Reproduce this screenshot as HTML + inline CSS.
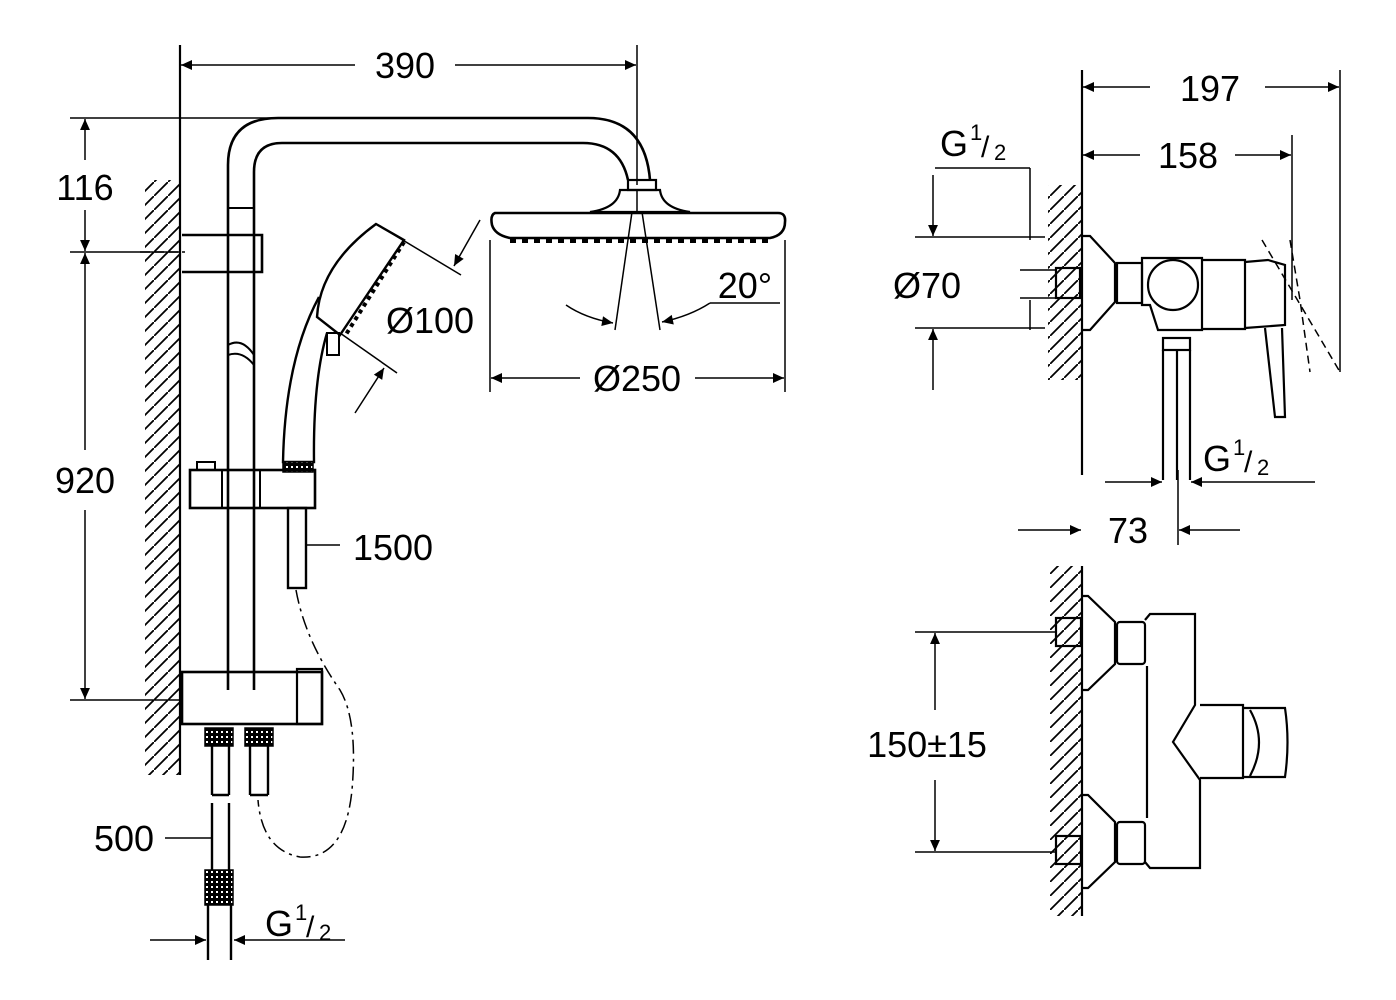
<!DOCTYPE html>
<html><head><meta charset="utf-8"><style>html,body{margin:0;padding:0;background:#fff}svg{display:block}</style></head><body>
<svg width="1396" height="1000" viewBox="0 0 1396 1000" xmlns="http://www.w3.org/2000/svg" font-family="Liberation Sans, sans-serif">
<defs>
<pattern id="h" width="14" height="14" patternUnits="userSpaceOnUse"><path d="M-2 16 L16 -2" stroke="#000" stroke-width="1.8"/></pattern>
<marker id="a" viewBox="0 0 10 10" refX="10" refY="5" markerWidth="30" markerHeight="11" markerUnits="userSpaceOnUse" orient="auto"><path d="M0 0.5 L10 5 L0 9.5z" fill="#000"/></marker>
<pattern id="k" width="5" height="5" patternUnits="userSpaceOnUse"><rect width="5" height="5" fill="#000"/><rect x="1" y="1" width="2" height="2" fill="#fff"/></pattern>
</defs>
<g fill="none" stroke="#000" stroke-width="1.5">
<!-- left wall -->
<rect x="145" y="180" width="35" height="595" fill="url(#h)" stroke="none"/>
<line x1="180" y1="45" x2="180" y2="775" stroke-width="2.2"/>
<!-- 390 -->
<line x1="637" y1="45" x2="637" y2="185"/>
<line x1="355" y1="65" x2="181" y2="65" marker-end="url(#a)"/>
<line x1="455" y1="65" x2="636" y2="65" marker-end="url(#a)"/>
<!-- 116 / 920 -->
<line x1="70" y1="118" x2="290" y2="118"/>
<line x1="70" y1="252" x2="180" y2="252"/>
<line x1="140" y1="252" x2="185" y2="252" stroke-dasharray="10 4"/>
<line x1="70" y1="700" x2="180" y2="700"/>
<line x1="85" y1="160" x2="85" y2="119" marker-end="url(#a)"/>
<line x1="85" y1="210" x2="85" y2="251" marker-end="url(#a)"/>
<line x1="85" y1="450" x2="85" y2="253" marker-end="url(#a)"/>
<line x1="85" y1="510" x2="85" y2="699" marker-end="url(#a)"/>
<!-- pipe -->
<path d="M228 690 V165 Q228 118 278 118 H588 Q645 118 650 180" stroke-width="2.6"/>
<path d="M254 690 V172 Q254 143 282 143 H583 Q620 143 628 180" stroke-width="2.6"/>
<line x1="228" y1="208" x2="254" y2="208" stroke-width="2"/>
<path d="M228 345 q14 -8 26 10 M228 355 q14 -5 26 10" stroke-width="2"/>
<!-- upper clamp -->
<path d="M182 235 H262 V272 H182" stroke-width="2.6"/>
<!-- head shower -->
<rect x="628" y="180" width="28" height="10" stroke-width="2.2"/>
<path d="M620 190 H660 Q662 208 690 212 H590 Q618 208 620 190z" stroke-width="2.2"/>
<path d="M495 213 Q490 215 492 225 Q495 235 510 238 H770 Q785 235 785 222 Q786 213 778 213z" stroke-width="2.6"/>
<path d="M510 241 H770" stroke-width="4" stroke-dasharray="6 6"/>
<line x1="637" y1="190" x2="637" y2="212"/>
<line x1="632" y1="212" x2="615" y2="330"/>
<line x1="642" y1="212" x2="660" y2="330"/>
<path d="M566 305 Q585 318 613 323" marker-end="url(#a)"/>
<path d="M710 303 Q690 316 662 322" marker-end="url(#a)"/>
<line x1="710" y1="303" x2="780" y2="303"/>
<line x1="490" y1="240" x2="490" y2="392"/>
<line x1="785" y1="240" x2="785" y2="392"/>
<line x1="580" y1="378" x2="491" y2="378" marker-end="url(#a)"/>
<line x1="695" y1="378" x2="784" y2="378" marker-end="url(#a)"/>
<!-- hand shower -->
<path d="M376 224 L404 240 L340 335 L317 317 Q320 265 376 224z" stroke-width="2.4"/>
<path d="M404 242 L345 336" stroke-width="4" stroke-dasharray="4 4"/>
<path d="M319 297 Q285 360 283 462 H314 Q313 380 327 333" stroke-width="2.4"/>
<rect x="327" y="333" width="12" height="22" stroke-width="2"/>
<line x1="376" y1="224" x2="461" y2="275"/>
<line x1="340" y1="333" x2="397" y2="373"/>
<line x1="480" y1="220" x2="454" y2="266" marker-end="url(#a)"/>
<line x1="355" y1="413" x2="384" y2="368" marker-end="url(#a)"/>
<rect x="283" y="462" width="30" height="10" fill="url(#k)"/>
<!-- slider -->
<rect x="190" y="470" width="125" height="38" stroke-width="2.6"/>
<line x1="222" y1="470" x2="222" y2="508" stroke-width="2"/><line x1="260" y1="470" x2="260" y2="508" stroke-width="2"/>
<rect x="197" y="462" width="18" height="8" stroke-width="2"/>
<rect x="288" y="508" width="18" height="80" stroke-width="2.4"/>
<line x1="306" y1="545" x2="340" y2="545"/>
<path d="M296 590 Q305 640 340 690 Q358 720 352 790 Q345 860 300 857 Q262 850 258 800" stroke-dasharray="14 5 3 5"/>
<!-- bottom bracket -->
<rect x="182" y="672" width="140" height="52" stroke-width="2.6"/>
<rect x="297" y="669" width="25" height="55" stroke-width="2.2"/>
<rect x="205" y="728" width="28" height="18" fill="url(#k)"/>
<rect x="245" y="728" width="28" height="18" fill="url(#k)"/>
<path d="M212 746 V795 M229 746 V795 M250 746 V795 M268 746 V795 M250 795 H268 M212 795 H229" stroke-width="2.4"/>
<path d="M212 803 V870 M229 803 V870" stroke-width="2.4"/>
<rect x="205" y="870" width="28" height="35" fill="url(#k)"/>
<path d="M208 905 V960 M231 905 V960" stroke-width="2.4"/>
<line x1="165" y1="838" x2="211" y2="838"/>
<line x1="150" y1="940" x2="206" y2="940" marker-end="url(#a)"/>
<line x1="345" y1="940" x2="234" y2="940" marker-end="url(#a)"/>

<!-- RIGHT TOP -->
<rect x="1048" y="185" width="34" height="195" fill="url(#h)" stroke="none"/>
<line x1="1082" y1="70" x2="1082" y2="475" stroke-width="2.2"/>
<line x1="1340" y1="70" x2="1340" y2="372"/>
<line x1="1292" y1="135" x2="1292" y2="300"/>
<line x1="1150" y1="87" x2="1083" y2="87" marker-end="url(#a)"/>
<line x1="1265" y1="87" x2="1339" y2="87" marker-end="url(#a)"/>
<line x1="1140" y1="155" x2="1083" y2="155" marker-end="url(#a)"/>
<line x1="1235" y1="155" x2="1291" y2="155" marker-end="url(#a)"/>
<line x1="935" y1="168" x2="1030" y2="168"/>
<line x1="1030" y1="168" x2="1030" y2="240"/>
<line x1="915" y1="237" x2="1045" y2="237"/>
<line x1="915" y1="328" x2="1045" y2="328"/>
<line x1="1020" y1="270" x2="1055" y2="270"/><line x1="1020" y1="298" x2="1055" y2="298"/>
<line x1="1030" y1="300" x2="1030" y2="330"/>
<line x1="933" y1="175" x2="933" y2="236" marker-end="url(#a)"/>
<line x1="933" y1="390" x2="933" y2="329" marker-end="url(#a)"/>
<rect x="1056" y="268" width="24" height="30" stroke-width="2.2"/>
<path d="M1082 236 H1090 L1115 263 V302 L1090 330 H1082" stroke-width="2.2"/>
<rect x="1117" y="263" width="25" height="40" stroke-width="2.2"/>
<path d="M1142 258 H1202 V330 H1158 L1150 305 H1142z" stroke-width="2.2"/>
<circle cx="1173" cy="285" r="25" stroke-width="2.2"/>
<path d="M1202 260 H1245 V329 H1202" stroke-width="2.2"/>
<path d="M1245 262 L1268 260 L1285 265 V325 L1245 328" stroke-width="2.2"/>
<path d="M1265 328 L1275 417 H1285 L1282 328" stroke-width="2.2"/>
<path d="M1262 240 L1340 372 M1290 240 L1300 300 L1310 372" stroke-dasharray="8 5"/>
<rect x="1163" y="338" width="27" height="12" stroke-width="2.2"/>
<path d="M1163 350 V480 M1177 350 V480 M1190 350 V480" stroke-width="2.2"/>
<line x1="1105" y1="482" x2="1162" y2="482" marker-end="url(#a)"/>
<line x1="1315" y1="482" x2="1191" y2="482" marker-end="url(#a)"/>
<line x1="1178" y1="470" x2="1178" y2="545"/>
<line x1="1018" y1="530" x2="1081" y2="530" marker-end="url(#a)"/>
<line x1="1240" y1="530" x2="1179" y2="530" marker-end="url(#a)"/>

<!-- RIGHT BOTTOM -->
<rect x="1050" y="566" width="32" height="350" fill="url(#h)" stroke="none"/>
<line x1="1082" y1="566" x2="1082" y2="916" stroke-width="2.2"/>
<line x1="915" y1="632" x2="1055" y2="632"/>
<line x1="915" y1="852" x2="1055" y2="852"/>
<line x1="935" y1="710" x2="935" y2="633" marker-end="url(#a)"/>
<line x1="935" y1="780" x2="935" y2="851" marker-end="url(#a)"/>
<rect x="1056" y="618" width="25" height="28" stroke-width="2.2"/>
<rect x="1056" y="836" width="25" height="28" stroke-width="2.2"/>
<path d="M1082 596 H1088 L1115 622 V664 L1088 690 H1082" stroke-width="2.2"/>
<path d="M1082 795 H1088 L1115 822 V862 L1088 888 H1082" stroke-width="2.2"/>
<rect x="1117" y="622" width="28" height="42" rx="3" stroke-width="2.2"/>
<rect x="1117" y="822" width="28" height="42" rx="3" stroke-width="2.2"/>
<path d="M1145 620 L1150 614 H1195 V705 L1173 742 L1200 780 V868 H1150 L1145 862 M1147 666 V818" stroke-width="2.2"/>
<path d="M1200 705 H1243 V778 H1200" stroke-width="2.2"/>
<path d="M1243 708 H1285 Q1290 742 1285 777 H1243 M1250 710 Q1268 742 1250 776" stroke-width="2.2"/>
</g>
<g font-size="36" text-anchor="middle" fill="#000">
<text x="405" y="78">390</text>
<text x="85" y="200">116</text>
<text x="85" y="493">920</text>
<text x="745" y="298">20°</text>
<text x="430" y="333">Ø100</text>
<text x="637" y="391">Ø250</text>
<text x="393" y="560">1500</text>
<text x="124" y="851">500</text>
<text x="1210" y="101">197</text>
<text x="1188" y="168">158</text>
<text x="927" y="298">Ø70</text>
<text x="1128" y="543">73</text>
<text x="927" y="757">150±15</text>
</g>
<g fill="#000">
<text x="265" y="936" font-size="36">G</text><text x="295" y="920" font-size="22">1</text><text x="306" y="937" font-size="30">/</text><text x="319" y="940" font-size="22">2</text>
<text x="940" y="156" font-size="36">G</text><text x="970" y="140" font-size="22">1</text><text x="981" y="157" font-size="30">/</text><text x="994" y="160" font-size="22">2</text>
<text x="1203" y="471" font-size="36">G</text><text x="1233" y="455" font-size="22">1</text><text x="1244" y="472" font-size="30">/</text><text x="1257" y="475" font-size="22">2</text>
</g>
</svg>
</body></html>
